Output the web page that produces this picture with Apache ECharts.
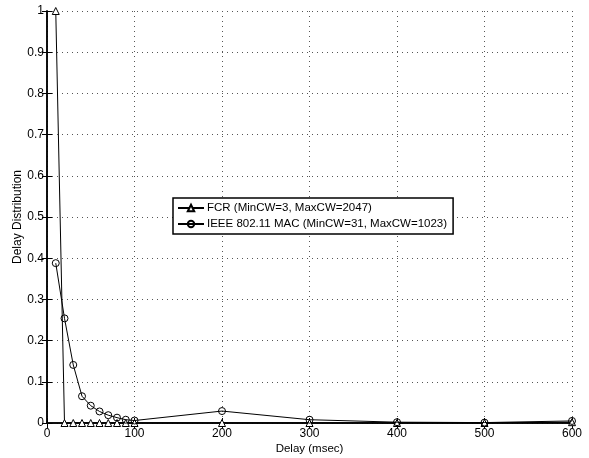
<!DOCTYPE html>
<html><head><meta charset="utf-8">
<script src="https://cdn.jsdelivr.net/npm/echarts@6/dist/echarts.min.js"></script>
<style>html,body{margin:0;padding:0;background:#fff}#c{width:589px;height:458px}</style>
</head><body><div id="c"></div>
<script>
const delays = [10, 20, 30, 40, 50, 60, 70, 80, 90, 100, 200, 300, 400, 500, 600];
const fcr = [1.0, 0, 0, 0, 0, 0, 0, 0, 0, 0, 0, 0, 0, 0, 0.002];
const ieee = [0.388, 0.254, 0.141, 0.065, 0.042, 0.028, 0.019, 0.013, 0.008, 0.006, 0.029, 0.008, 0.002, 0.001, 0.005];
const seriesNames = ['FCR (MinCW=3, MaxCW=2047)', 'IEEE 802.11 MAC (MinCW=31, MaxCW=1023)'];
const xTicks = [0, 100, 200, 300, 400, 500, 600];
const yTicks = [0, 0.1, 0.2, 0.3, 0.4, 0.5, 0.6, 0.7, 0.8, 0.9, 1];

const font = 'Liberation Sans, Arial, sans-serif';
const chart = echarts.init(document.getElementById('c'), null, {renderer: 'canvas'});
const axisCommon = {
  axisLine: {show: true, lineStyle: {color: '#000', width: 1.5}},
  axisTick: {show: true, inside: true, length: 5, lineStyle: {color: '#000'}},
};
chart.setOption({
  animation: false,
  backgroundColor: '#fff',
  grid: {left: 47, right: 17, top: 11, bottom: 35, show: false, outerBoundsMode: 'none', containLabel: false},
  legend: {
    orient: 'vertical', left: 173, top: 198,
    data: seriesNames,
    backgroundColor: '#fff', borderColor: '#000', borderWidth: 1.5,
    padding: [4, 6, 4, 4], itemGap: 4, itemWidth: 26, itemHeight: 8,
    textStyle: {fontFamily: font, fontSize: 11.5, color: '#000', padding: [0,0,0,-2]},
  },
  xAxis: [{
    type: 'value', min: 0, max: 600, interval: 100,
    name: 'Delay (msec)', nameLocation: 'middle', nameGap: 20, nameMoveOverlap: false,
    nameTextStyle: {fontFamily: font, fontSize: 11.5, color: '#000'},
    axisLabel: {fontFamily: font, fontSize: 12, color: '#000', margin: 5, formatter: v => xTicks.includes(v) ? String(v) : ''},
    splitLine: {show: true, lineStyle: {type: [1, 4], color: '#555', width: 1}},
    ...axisCommon,
  }, {
    type: 'value', min: 0, max: 600, interval: 100, position: 'top',
    axisLabel: {show: false}, splitLine: {show: false}, ...axisCommon,
  }],
  yAxis: [{
    type: 'value', min: 0, max: 1, interval: 0.1,
    name: 'Delay Distribution', nameLocation: 'middle', nameGap: 23, nameMoveOverlap: false,
    nameTextStyle: {fontFamily: font, fontSize: 12, color: '#000'},
    axisLabel: {fontFamily: font, fontSize: 12, color: '#000', margin: 3,
      formatter: v => { const t = yTicks.find(y => Math.abs(y - v) < 1e-6); return t === undefined ? '' : String(t); }},
    splitLine: {show: true, lineStyle: {type: [1, 4], color: '#555', width: 1}},
    ...axisCommon,
  }, {
    type: 'value', min: 0, max: 1, interval: 0.1, position: 'right',
    axisLabel: {show: false}, splitLine: {show: false}, ...axisCommon,
  }],
  series: [{
    name: seriesNames[0], type: 'line',
    data: delays.map((d, i) => [d, fcr[i]]),
    symbol: 'triangle', symbolSize: 7, showAllSymbol: true,
    lineStyle: {color: '#000', width: 1},
    itemStyle: {color: '#fff', borderColor: '#000', borderWidth: 1},
    z: 3,
  }, {
    name: seriesNames[1], type: 'line',
    data: delays.map((d, i) => [d, ieee[i]]),
    symbol: 'circle', symbolSize: 7, showAllSymbol: true,
    lineStyle: {color: '#000', width: 1},
    itemStyle: {color: 'rgba(255,255,255,0)', borderColor: '#000', borderWidth: 1},
    z: 4,
  }],
});
</script></body></html>
